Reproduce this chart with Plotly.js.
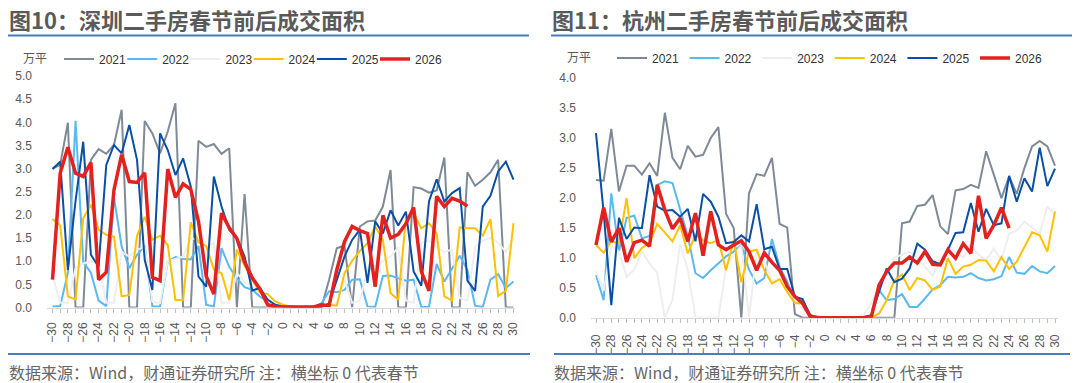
<!DOCTYPE html>
<html>
<head>
<meta charset="utf-8">
<script src="https://cdn.plot.ly/plotly-3.0.1.min.js"></script>
<style>
html,body{margin:0;padding:0;background:#fff;}
#chart{width:1080px;height:383px;}
</style>
</head>
<body>
<div id="chart"></div>
<script>
// ---------- data ----------
const days = [-30,-29,-28,-27,-26,-25,-24,-23,-22,-21,-20,-19,-18,-17,-16,-15,-14,-13,-12,-11,-10,-9,-8,-7,-6,-5,-4,-3,-2,-1,0,1,2,3,4,5,6,7,8,9,10,11,12,13,14,15,16,17,18,19,20,21,22,23,24,25,26,27,28,29,30];
const seriesNames = ['2021','2022','2023','2024','2025','2026'];

// 深圳 (万平)
const sz2021 = [3.0,3.08,3.99,0,0,3.19,3.42,3.32,3.51,4.27,0,0,4.03,3.76,3.33,3.8,4.41,0,0,3.6,3.47,3.53,3.32,3.44,0,2.45,0,0,0,0,0,0,0,0,0,0,0.6,1.28,1.34,0,1.75,1.86,1.88,2.18,2.97,0,0,2.6,2.57,2.48,2.53,3.24,0,0,2.92,2.63,2.76,2.92,3.19,0,0];
const sz2022 = [0.02,0.03,0.75,4.03,0.98,0.75,0.15,0.03,2.38,1.32,0.85,1.14,1.33,0.02,0.02,0.99,1.09,1.05,1.04,1.33,0.06,0.02,1.28,0.88,0.63,0.44,0.38,0.24,0.13,0.04,0.01,0.01,0.01,0.01,0.01,0.09,0.35,0.33,0.38,0.6,0.61,0.02,0.01,0.68,0.69,0.63,0.58,0.6,0.01,0.01,0.94,0.56,0.83,1.12,0.81,0.04,0.01,0.6,0.72,0.42,0.56];
const sz2023 = [0.7,0.1,0.1,0.85,0.95,1.0,0.95,0.1,0.1,1.2,1.1,1.25,1.3,0.12,0.1,1.0,1.05,1.1,1.5,1.45,1.3,1.4,0.1,0.1,0.75,0.55,0.45,0.3,0.12,0.02,0,0,0,0,0,0,0.05,0.1,0.6,0.1,0.15,0.8,0.9,1.0,1.1,1.3,0.15,0.1,1.4,1.45,1.3,1.2,1.25,0.2,0.15,1.3,1.45,1.5,1.4,1.2,1.5];
const sz2024 = [1.91,1.77,0.24,0.17,1.93,2.22,1.68,1.57,1.53,0.24,0.27,1.55,1.96,1.46,1.55,1.35,0.16,0.16,1.84,1.41,1.33,0.82,0.74,0.16,1.25,0.9,0.6,0.32,0.29,0.13,0.06,0.02,0.01,0.01,0.01,0.02,0.06,0.04,0.74,1.01,1.22,1.39,1.75,1.46,0.31,0.17,1.93,2.04,1.71,1.82,1.6,0.24,0.15,1.73,1.71,1.71,1.55,1.91,0.25,0.36,1.82];
const sz2025 = [2.99,3.15,0.81,2.3,3.58,1.14,0.88,3.08,3.51,3.33,3.94,3.19,1.03,0.38,3.76,3.4,2.86,3.22,2.61,0.67,0.45,2.83,2.18,1.68,1.5,1.1,0.37,0.42,0.17,0.06,0.02,0.01,0.01,0.01,0.01,0.01,0.09,0.6,1.1,1.46,1.68,0.53,1.86,1.6,2.1,1.77,2.07,0.78,0.47,2.29,2.77,2.29,2.47,2.58,0.58,0.36,2.18,2.41,2.94,3.15,2.76];
const sz2026 = [0.6,2.9,3.46,2.9,2.83,3.13,0.6,0.76,2.54,3.3,2.72,2.7,2.91,0.65,0.58,2.99,2.38,2.67,2.55,1.86,0.68,0.29,2.04,1.72,1.49,0.98,0.64,0.4,0.06,0.02,0.01,0.01,0.01,0.02,0.01,0.06,0.04,0.81,1.42,1.75,1.66,1.6,0.45,1.99,1.5,1.58,1.81,2.16,0.78,0.36,2.4,2.18,2.36,2.3,2.19,null,null,null,null,null,null];

// 杭州 (万平)
const hz2021 = [2.29,2.28,3.14,2.1,2.53,2.53,2.38,2.57,2.36,3.41,2.66,2.47,2.86,2.68,2.71,2.99,3.17,1.73,1.49,0,2.07,2.39,2.36,2.66,1.56,1.5,0.06,0,0,0,0,0,0,0,0,0,0,0,0,0,1.57,1.6,1.86,1.88,2.04,1.52,1.39,2.12,2.14,2.21,2.16,2.77,2.38,1.99,2.35,2.06,2.49,2.85,2.94,2.85,2.53];
const hz2022 = [0.71,0.29,2.07,1.1,1.66,1.7,1.32,1.36,2.21,2.27,2.24,1.79,1.36,0.74,0.66,0.79,0.91,1.02,1.1,1.21,0.8,0.57,0.66,1.31,0.85,0.6,0.27,0.27,0.04,0,0,0,0,0,0,0.02,0.04,0.46,0.29,0.31,0.39,0.18,0.18,0.32,0.47,0.54,0.68,0.67,0.68,0.74,0.66,0.62,0.64,0.69,1.01,0.75,0.73,0.86,0.77,0.74,0.86];
const hz2023 = [0.77,0.45,1.2,1.1,0.68,0.8,1.1,0.9,0.75,0,0.3,1.23,0.8,0,0,0,0,0.85,1.05,1.2,0,1.1,0.95,0.6,0.65,0.55,0.3,0.15,0.05,0,0,0,0,0,0,0.05,0.25,0.5,0.75,1.0,1.05,1.1,1.0,0.85,0.7,0.95,1.2,1.1,1.0,1.2,1.05,0.95,1.15,0.95,1.4,1.45,1.6,1.5,1.4,1.85,1.7];
const hz2024 = [1.21,1.08,1.27,1.24,1.99,0.99,1.16,1.24,1.56,1.41,1.27,1.54,1.07,1.38,1.29,1.24,1.29,0.79,1.29,0.59,1.1,1.13,0.79,0.57,0.64,0.43,0.24,0.24,0.04,0.02,0,0,0,0,0,0,0,0.07,0.29,0.62,0.72,0.46,0.66,0.62,0.46,0.52,0.99,0.73,0.85,0.88,0.96,0.95,0.77,1.01,0.81,0.93,1.17,1.42,1.37,1.1,1.77];
const hz2025 = [3.07,1.75,0.21,1.66,1.31,1.5,1.49,2.37,1.85,1.78,1.79,1.68,1.81,1.27,2.06,1.93,1.68,1.24,1.26,1.37,1.27,1.89,1.14,1.18,0.81,0.81,0.35,0.31,0.04,0,0,0,0,0,0,0,0.04,0.43,0.82,0.59,0.65,0.82,1.23,1.13,0.94,0.89,1.13,1.41,1.42,1.91,1.43,1.81,1.54,1.57,2.36,1.93,2.32,2.1,2.83,2.19,2.48];
const hz2026 = [1.21,1.83,1.26,1.49,0.93,1.25,1.29,1.19,2.21,1.79,1.48,1.66,1.27,1.74,1.03,1.77,1.21,1.13,1.21,1.28,1.1,0.79,1.08,0.92,0.79,0.52,0.35,0.24,0.02,0,0,0,0,0,0,0,0.02,0.54,0.77,0.91,0.91,1.01,0.91,1.1,0.89,0.88,1.13,0.99,1.23,1.07,2.03,1.32,1.54,1.83,1.49,null,null,null,null,null,null];

// ---------- styling ----------
const colors = ['#7E8A97','#5AB8F2','#EEEEEE','#FFC000','#0A4FA3','#E3211F'];
const widths = [2,2,2,2,2,3.5];
const W = 1080, H = 383;
const px = v => v / W;
const py = v => 1 - v / H;

const szData = [sz2021, sz2022, sz2023, sz2024, sz2025, sz2026];
const hzData = [hz2021, hz2022, hz2023, hz2024, hz2025, hz2026];

const traces = [];
szData.forEach((ys, i) => traces.push({
  type: 'scatter', mode: 'lines', x: days, y: ys, name: seriesNames[i],
  xaxis: 'x', yaxis: 'y', legend: 'legend', legendwidth: i === 5 ? 40 : undefined,
  line: {color: colors[i], width: widths[i]}, connectgaps: false, hoverinfo: 'skip'
}));
hzData.forEach((ys, i) => traces.push({
  type: 'scatter', mode: 'lines', x: days, y: ys, name: seriesNames[i],
  xaxis: 'x2', yaxis: 'y2', legend: 'legend2', legendwidth: i === 5 ? 40 : undefined,
  line: {color: colors[i], width: widths[i]}, connectgaps: false, hoverinfo: 'skip'
}));

const tickFont = {family: 'Liberation Sans, Arial, sans-serif', size: 12, color: '#595959'};
function xAxis(domain, range, standoff, anchor) {
  return {
    domain: domain, range: range, anchor: anchor,
    tickmode: 'linear', tick0: -30, dtick: 2, tickangle: -90,
    ticks: 'outside', ticklen: 4, tickcolor: '#BFBFBF', tickwidth: 1,
    minor: {dtick: 1, ticks: 'outside', ticklen: 4, tickcolor: '#BFBFBF', showgrid: false},
    showline: true, linecolor: '#D9D9D9', linewidth: 1,
    showgrid: false, zeroline: false, tickfont: tickFont,
    ticklabelstandoff: standoff, fixedrange: true
  };
}
function yAxis(domain, range, anchor) {
  return {
    domain: domain, range: range, anchor: anchor,
    tickmode: 'linear', tick0: 0, dtick: 0.5, tickformat: '.1f',
    ticks: '', showline: false, showgrid: false, zeroline: false,
    tickfont: tickFont, ticklabelstandoff: 14, fixedrange: true
  };
}
const legendFont = {family: 'Liberation Sans, Arial, sans-serif', size: 12, color: '#333333'};

const annFont = (size, color) => ({family: 'Noto Sans CJK SC, sans-serif', size: size, color: color});
const annotations = [
  {text: '<b>图10：深圳二手房春节前后成交面积</b>', x: px(7), y: py(19), xref: 'paper', yref: 'paper', xanchor: 'left', yanchor: 'middle', showarrow: false, font: annFont(22, '#5A5A5A')},
  {text: '<b>图11：杭州二手房春节前后成交面积</b>', x: px(550), y: py(19), xref: 'paper', yref: 'paper', xanchor: 'left', yanchor: 'middle', showarrow: false, font: annFont(22, '#5A5A5A')},
  {text: '万平', x: px(21), y: py(58), xref: 'paper', yref: 'paper', xanchor: 'left', yanchor: 'middle', showarrow: false, font: annFont(12, '#595959')},
  {text: '万平', x: px(565), y: py(57), xref: 'paper', yref: 'paper', xanchor: 'left', yanchor: 'middle', showarrow: false, font: annFont(12, '#595959')},
  {text: '数据来源：Wind，财通证券研究所 注：横坐标 0 代表春节', x: px(7), y: py(372), xref: 'paper', yref: 'paper', xanchor: 'left', yanchor: 'middle', showarrow: false, font: annFont(16, '#666666')},
  {text: '数据来源：Wind，财通证券研究所 注：横坐标 0 代表春节', x: px(552), y: py(372), xref: 'paper', yref: 'paper', xanchor: 'left', yanchor: 'middle', showarrow: false, font: annFont(16, '#666666')}
];
const rule = (x0, x1, y) => ({type: 'line', xref: 'paper', yref: 'paper', x0: px(x0), x1: px(x1), y0: py(y), y1: py(y), line: {color: '#4A7EBB', width: 2}});
const shapes = [rule(8, 529, 35.5), rule(551, 1072, 35.5), rule(8, 530, 354), rule(554, 1070, 354)];

const layout = {
  width: W, height: H, margin: {l: 0, r: 0, t: 0, b: 0},
  paper_bgcolor: '#ffffff', plot_bgcolor: 'rgba(0,0,0,0)',
  font: {family: 'Liberation Sans, Arial, sans-serif'},
  xaxis: xAxis([px(47), px(515)], [-30.716, 30.195], 5, 'y'),
  yaxis: yAxis([75.5 / H, 307 / H], [0, 5], 'x'),
  xaxis2: xAxis([px(591), px(1058)], [-30.654, 30.392], 7, 'y2'),
  yaxis2: yAxis([65.3 / H, 305.7 / H], [0, 4], 'x2'),
  showlegend: true,
  legend: {orientation: 'h', x: px(59), xanchor: 'left', y: py(59), yanchor: 'middle',
           entrywidth: 18.2, entrywidthmode: 'pixels', font: legendFont, bgcolor: 'rgba(0,0,0,0)', borderwidth: 0, itemclick: false, itemdoubleclick: false},
  legend2: {orientation: 'h', x: px(612), xanchor: 'left', y: py(58), yanchor: 'middle',
           entrywidth: 27.6, entrywidthmode: 'pixels', font: legendFont, bgcolor: 'rgba(0,0,0,0)', borderwidth: 0, itemclick: false, itemdoubleclick: false},
  annotations: annotations,
  shapes: shapes
};

Plotly.newPlot('chart', traces, layout, {displayModeBar: false, responsive: false});
</script>
</body>
</html>
